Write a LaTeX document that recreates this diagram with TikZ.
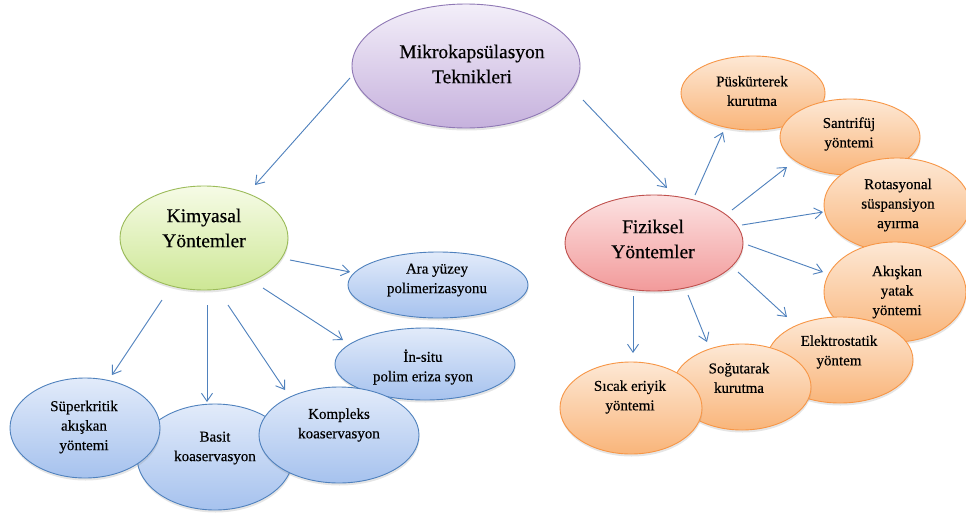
\documentclass[tikz,border=0pt]{standalone}
\usepackage{fontspec}
\setmainfont{Liberation Serif}
\newfontfamily\labelface{Liberation Serif}[FakeBold=0.4]
\usetikzlibrary{shapes.geometric,arrows.meta,calc,shadows}

\definecolor{lineblue}{HTML}{4F81BD}
\definecolor{purpleTop}{HTML}{F3EFF9}
\definecolor{purpleBot}{HTML}{C6B1DD}
\definecolor{purpleEdge}{HTML}{8F78B5}
\definecolor{greenTop}{HTML}{F6FBE6}
\definecolor{greenBot}{HTML}{CDE795}
\definecolor{greenEdge}{HTML}{9BBB59}
\definecolor{redTop}{HTML}{FCE2E2}
\definecolor{redBot}{HTML}{F29A9A}
\definecolor{redEdge}{HTML}{C0504D}
\definecolor{blueTop}{HTML}{E2EBFA}
\definecolor{blueBot}{HTML}{A6C2EE}
\definecolor{blueEdge}{HTML}{4F81BD}
\definecolor{orangeTop}{HTML}{FDE8D5}
\definecolor{orangeBot}{HTML}{F9B57A}
\definecolor{orangeEdge}{HTML}{F79646}

\begin{document}
\begin{tikzpicture}[x=1pt,y=-1pt,
  bubble/.style 2 args={ellipse, inner sep=0pt, line width=0.9pt,
    minimum width=#1, minimum height=#2,
    drop shadow={opacity=0.2, shadow xshift=0.5pt, shadow yshift=-2.5pt}},
  purplebub/.style={draw=purpleEdge, top color=purpleTop, bottom color=purpleBot},
  greenbub/.style={draw=greenEdge, top color=greenTop, bottom color=greenBot},
  redbub/.style={draw=redEdge, top color=redTop, bottom color=redBot},
  bluebub/.style={draw=blueEdge, top color=blueTop, bottom color=blueBot},
  orangebub/.style={draw=orangeEdge, top color=orangeTop, bottom color=orangeBot},
  bigtxt/.style={align=center, inner sep=0pt, text=black, font=\labelface\fontsize{19.5}{25}\selectfont},
  smalltxt/.style={align=center, inner sep=0pt, text=black, font=\labelface\fontsize{15}{19.5}\selectfont},
  arr/.style={draw=lineblue, line width=0.9pt, -{Straight Barb[length=8pt,width=11pt]}}
]
\fill[white] (0,0) rectangle (966,514);
\useasboundingbox (0,0) rectangle (966,514);

% top level
\node[bubble={228pt}{124pt}, purplebub] (mik) at (466,66) {};
\node[bigtxt] (mikT) at (472,64) {Mikrokapsülasyon\\Teknikleri};

% chemical methods
\node[bubble={168pt}{104pt}, greenbub] (kim) at (204,238) {};
\node[bigtxt] (kimT) at (204,228) {Kimyasal\\Yöntemler};

\node[bubble={180pt}{66pt}, bluebub] (ara) at (438,285) {};
\node[smalltxt] (araT) at (437,280) {Ara yüzey\\polimerizasyonu};
\node[bubble={180pt}{72pt}, bluebub] (ins) at (425,364) {};
\node[smalltxt] (insT) at (423,367) {İn-situ\\polim eriza syon};
\node[bubble={156pt}{106pt}, bluebub] (bas) at (215,457) {};
\node[smalltxt] (basT) at (215,448) {Basit\\koaservasyon};
\node[bubble={150pt}{100pt}, bluebub] (sup) at (85,428) {};
\node[smalltxt] (supT) at (84,427) {Süperkritik\\akışkan\\yöntemi};
\node[bubble={160pt}{96pt}, bluebub] (kom) at (339,435) {};
\node[smalltxt] (komT) at (339,425) {Kompleks\\koaservasyon};

% physical methods
\node[bubble={178pt}{96pt}, redbub] (fiz) at (654,243) {};
\node[bigtxt] (fizT) at (653,239) {Fiziksel\\Yöntemler};

\node[bubble={144pt}{74pt}, orangebub] (pus) at (753,93) {};
\node[smalltxt] (pusT) at (752,91) {Püskürterek\\kurutma};
\node[bubble={140pt}{76pt}, orangebub] (san) at (850,137) {};
\node[smalltxt] (sanT) at (849,134) {Santrifüj\\yöntemi};
\node[bubble={146pt}{94pt}, orangebub] (rot) at (897,205) {};
\node[smalltxt] (rotT) at (898,205) {Rotasyonal\\süspansiyon\\ayırma};
\node[bubble={142pt}{100pt}, orangebub] (aki) at (895,292) {};
\node[smalltxt] (akiT) at (897,292) {Akışkan\\yatak\\yöntemi};
\node[bubble={146pt}{86pt}, orangebub] (ele) at (840,360) {};
\node[smalltxt] (eleT) at (839,352) {Elektrostatik\\yöntem};
\node[bubble={138pt}{86pt}, orangebub] (sog) at (742,387) {};
\node[smalltxt] (sogT) at (739,378) {Soğutarak\\kurutma};
\node[bubble={142pt}{92pt}, orangebub] (sic) at (631,408) {};
\node[smalltxt] (sicT) at (630,397) {Sıcak eriyik\\yöntemi};

% connectors
\draw[arr] ($(mik)+(-116,12)$) -- ($(kim)+(51,-53)$);
\draw[arr] ($(mik)+(117,34)$) -- ($(fiz)+(13,-55)$);

\draw[arr] ($(kim)+(86,22)$) -- ($(ara)+(-88,-13)$);
\draw[arr] ($(kim)+(59,50)$) -- ($(ins)+(-82,-24)$);
\draw[arr] ($(kim)+(-42,62)$) -- ($(sup)+(27,-53)$);
\draw[arr] ($(kim)+(3,67)$) -- ($(bas)+(-8,-55)$);
\draw[arr] ($(kim)+(24,67)$) -- ($(kom)+(-54,-45)$);

\draw[arr] ($(fiz)+(41,-48)$) -- ($(pus)+(-30,39)$);
\draw[arr] ($(fiz)+(78,-33)$) -- ($(san)+(-63,30)$);
\draw[arr] ($(fiz)+(88,-18)$) -- ($(rot)+(-74,7)$);
\draw[arr] ($(fiz)+(94,2)$) -- ($(aki)+(-72,-20)$);
\draw[arr] ($(fiz)+(84,29)$) -- ($(ele)+(-53,-43)$);
\draw[arr] ($(fiz)+(34,52)$) -- ($(sog)+(-35,-45)$);
\draw[arr] ($(fiz)+(-21,53)$) -- ($(sic)+(2,-55)$);
\end{tikzpicture}
\end{document}
